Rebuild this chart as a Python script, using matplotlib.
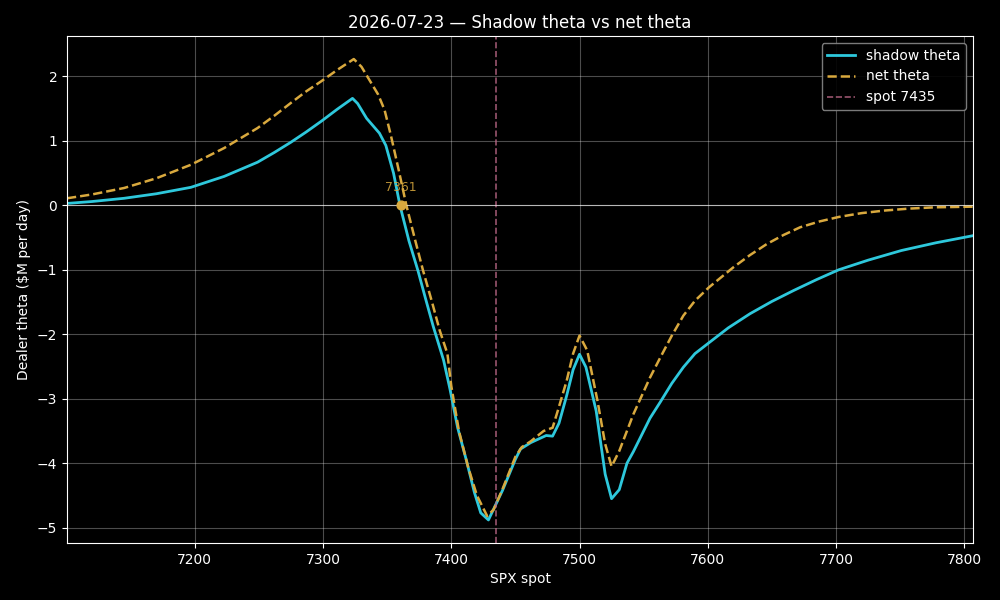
import matplotlib
matplotlib.use("Agg")
import matplotlib.pyplot as plt
import numpy as np

# values
shadow_x = [7100.4, 7120, 7145, 7170, 7197, 7223, 7249, 7262, 7275, 7287, 7299, 7311,
            7323, 7327, 7334, 7344, 7349, 7355, 7360, 7367, 7374, 7380, 7386, 7394,
            7399, 7405, 7412, 7418, 7423, 7429, 7440, 7450, 7454, 7462, 7474, 7479,
            7484, 7490, 7495, 7500, 7505, 7513, 7520, 7525, 7531, 7537, 7542, 7555,
            7563, 7572, 7581, 7590, 7601, 7616, 7633, 7650, 7667, 7685, 7702, 7725,
            7751, 7778, 7806.8]
shadow_y = [0.03, 0.06, 0.11, 0.18, 0.28, 0.45, 0.67, 0.82, 0.98, 1.14, 1.31, 1.49,
            1.66, 1.58, 1.35, 1.12, 0.93, 0.50, 0.00, -0.55, -1.01, -1.45, -1.88, -2.40,
            -2.85, -3.45, -3.97, -4.45, -4.77, -4.88, -4.42, -3.94, -3.78, -3.68, -3.57, -3.58,
            -3.38, -2.95, -2.55, -2.31, -2.51, -3.19, -4.17, -4.55, -4.41, -4.00, -3.82, -3.30,
            -3.05, -2.76, -2.51, -2.30, -2.13, -1.90, -1.68, -1.49, -1.32, -1.15, -1.00, -0.85,
            -0.70, -0.58, -0.47]

net_x = [7100.4, 7120, 7145, 7170, 7197, 7223, 7249, 7262, 7275, 7287, 7299, 7311,
         7324, 7330, 7343, 7348, 7353, 7359, 7365, 7372, 7378, 7385, 7391, 7397,
         7400, 7406, 7413, 7420, 7428, 7433, 7440, 7450, 7455, 7462, 7472, 7479,
         7483, 7490, 7495, 7500, 7506, 7514, 7520, 7525, 7531, 7542, 7555, 7563,
         7572, 7581, 7590, 7601, 7620, 7633, 7646, 7659, 7672, 7687, 7702, 7720,
         7738, 7757, 7777, 7806.8]
net_y = [0.11, 0.17, 0.27, 0.42, 0.63, 0.89, 1.20, 1.39, 1.59, 1.77, 1.93, 2.10,
         2.27, 2.15, 1.72, 1.48, 1.08, 0.55, 0.00, -0.55, -1.01, -1.50, -1.94, -2.30,
         -2.80, -3.50, -4.05, -4.50, -4.82, -4.72, -4.40, -3.90, -3.75, -3.66, -3.50, -3.45,
         -3.19, -2.72, -2.30, -2.02, -2.25, -3.03, -3.70, -4.05, -3.81, -3.24, -2.67, -2.36,
         -2.02, -1.71, -1.48, -1.27, -0.96, -0.77, -0.60, -0.46, -0.34, -0.25, -0.18, -0.12,
         -0.08, -0.05, -0.03, -0.02]

spot = 7435
flip = 7361

cyan = "#2ec8dc"
gold = "#d9a93e"

plt.style.use("dark_background")
fig = plt.figure(figsize=(10, 6), dpi=100)
ax = fig.add_axes([0.067, 0.095, 0.906, 0.845])

ax.plot(shadow_x, shadow_y, color=cyan, lw=2, label="shadow theta")
ax.plot(net_x, net_y, color=gold, lw=1.8, ls="--", label="net theta")
ax.axvline(spot, color="#c06a8a", lw=1.2, ls="--", alpha=0.8, label=f"spot {spot}")
ax.axhline(0, color="white", lw=0.8, alpha=0.6)

ax.scatter([flip], [0], color=gold, s=40, zorder=5)
ax.annotate(str(flip), (flip, 0), xytext=(0, 8), textcoords="offset points",
            ha="center", va="bottom", fontsize=9, color=gold, alpha=0.85)

ax.set_xlim(shadow_x[0], shadow_x[-1])
ax.grid(True, color="white", alpha=0.3, lw=0.8)
ax.set_title("2026-07-23 \u2014 Shadow theta vs net theta", fontsize=12)
ax.set_xlabel("SPX spot")
ax.set_ylabel("Dealer theta ($M per day)")
ax.legend(loc="upper right", facecolor="black", edgecolor="#888888", framealpha=0.9)

fig.savefig("out.png", dpi=100)
